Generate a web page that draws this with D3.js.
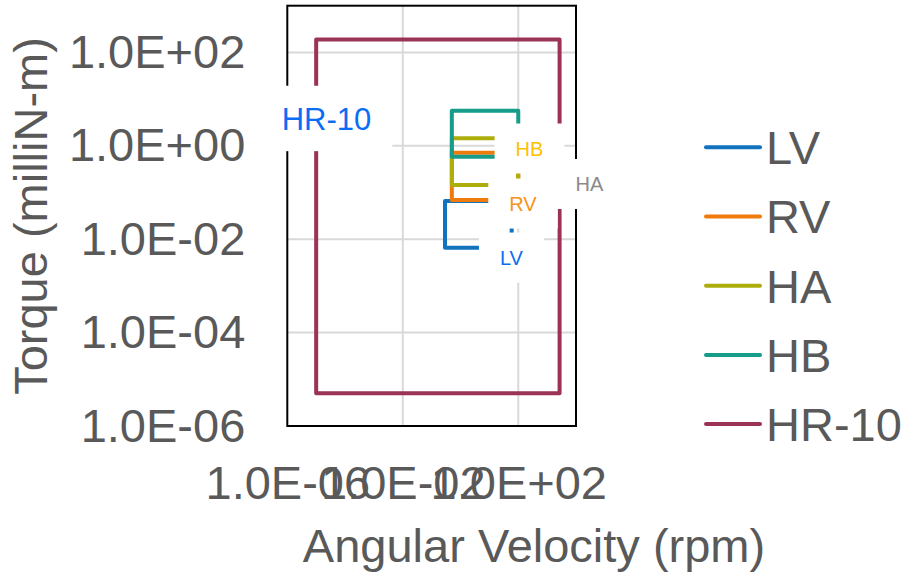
<!DOCTYPE html>
<html>
<head>
<meta charset="utf-8">
<script src="https://cdn.jsdelivr.net/npm/d3@7"></script>
<style>
  body { margin: 0; background: #fff; }
  text { font-family: "Liberation Sans", Arial, sans-serif; }
</style>
</head>
<body>
<svg id="chart" width="903" height="572"></svg>
<script>
// operating envelopes: speed range (rpm) and torque range (milliN-m)
const seriesNames = ["LV", "RV", "HA", "HB", "HR-10"];
const speedMin = [0.29, 0.5, 0.5, 0.5, 1e-5];
const speedMax = [59, 100, 100, 100, 2700];
const torqueMin = [0.0066, 0.069, 0.145, 0.58, 5e-6];
const torqueMax = [0.066, 0.71, 1.45, 5.6, 190];

const seriesColors = ["#1172BE", "#EF7B0C", "#ADAE0C", "#179C8A", "#9A3356"];

// data label anchors, in data units (rpm, milliN-m)
const labelSpeed = [58, 146, 29300, 245, 2.28e-5];
const labelTorque = [0.00405, 0.058, 0.152, 0.875, 3.85];
const labelColors = ["#0B6CF5", "#F7941D", "#8A8A8A", "#FFC000", "#0B6CF5"];
const labelSizes = [20, 20, 20, 20, 31];

const xTicks = [1e-6, 1e-2, 1e2];
const yTicks = [1e-6, 1e-4, 1e-2, 1e0, 1e2];

const svg = d3.select("#chart");
const margin = { left: 287.3, top: 5.7 };
const W = 288.7, H = 420.3;
const TXT = "#595959";

const x = d3.scaleLog().domain([1e-6, 1e4]).range([0, W]);
const y = d3.scaleLog().domain([1e-6, 1e3]).range([H, 0]);

const fmtE = v => {
  const [m, e] = v.toExponential(1).split("e");
  const n = Math.abs(+e);
  return m + "E" + (+e < 0 ? "-" : "+") + (n < 10 ? "0" + n : n);
};

const g = svg.append("g").attr("transform", `translate(${margin.left},${margin.top})`);

// gridlines
g.append("g").selectAll("line").data([1e-2, 1e2]).join("line")
  .attr("x1", d => x(d)).attr("x2", d => x(d)).attr("y1", 0).attr("y2", H)
  .attr("stroke", "#D9D9D9").attr("stroke-width", 2);
g.append("g").selectAll("line").data([1e-4, 1e-2, 1e0, 1e2]).join("line")
  .attr("y1", d => y(d)).attr("y2", d => y(d)).attr("x1", 0).attr("x2", W)
  .attr("stroke", "#D9D9D9").attr("stroke-width", 2);

// plot border
g.append("rect").attr("width", W).attr("height", H)
  .attr("fill", "none").attr("stroke", "#000").attr("stroke-width", 2);

// axes
const xAxis = g.append("g").attr("transform", `translate(0,${H})`)
  .call(d3.axisBottom(x).tickValues(xTicks).tickFormat(fmtE).tickSize(0).tickPadding(40));
const yAxis = g.append("g")
  .call(d3.axisLeft(y).tickValues(yTicks).tickFormat(fmtE).tickSize(0).tickPadding(42));
[xAxis, yAxis].forEach(a => {
  a.select(".domain").remove();
  a.selectAll("text").attr("font-size", 47).attr("fill", TXT)
    .attr("font-family", "'Liberation Sans', Arial, sans-serif");
});

// envelopes
const line = d3.line().x(d => x(d[0])).y(d => y(d[1]));
seriesNames.forEach((name, i) => {
  const pts = [
    [speedMin[i], torqueMin[i]], [speedMin[i], torqueMax[i]],
    [speedMax[i], torqueMax[i]], [speedMax[i], torqueMin[i]],
    [speedMin[i], torqueMin[i]]
  ];
  g.append("path").attr("d", line(pts) + "Z")
    .attr("fill", "none").attr("stroke", seriesColors[i])
    .attr("stroke-width", 4).attr("stroke-linejoin", "round");
});

// data labels with white boxes
seriesNames.forEach((name, i) => {
  const cx = x(labelSpeed[i]), cy = y(labelTorque[i]);
  const lg = g.append("g");
  const box = lg.append("rect").attr("fill", "#fff");
  const t = lg.append("text").attr("x", cx).attr("y", cy).attr("dy", "0.36em")
    .attr("text-anchor", "middle").attr("font-size", labelSizes[i])
    .attr("font-family", "Lato, 'Open Sans', sans-serif")
    .attr("fill", labelColors[i]).text(name);
  const tw = t.node().getComputedTextLength();
  const bw = tw + 42, bh = labelSizes[i] * 1.4 + 22;
  box.attr("x", cx - bw / 2).attr("y", cy - bh / 2).attr("width", bw).attr("height", bh);
});

// axis titles
svg.append("text").attr("x", 534).attr("y", 562).attr("text-anchor", "middle")
  .attr("font-size", 47).attr("fill", TXT).text("Angular Velocity (rpm)");
svg.append("text").attr("transform", "translate(47,216) rotate(-90)")
  .attr("text-anchor", "middle").attr("font-size", 47).attr("fill", TXT)
  .text("Torque (milliN-m)");

// legend
const leg = svg.append("g").attr("transform", "translate(706,147.3)");
seriesNames.forEach((name, i) => {
  const r = leg.append("g").attr("transform", `translate(0,${i * 69.2})`);
  r.append("line").attr("x1", 0).attr("x2", 54)
    .attr("stroke", seriesColors[i]).attr("stroke-width", 4).attr("stroke-linecap", "round");
  r.append("text").attr("x", 60).attr("dy", "0.36em")
    .attr("font-size", 47).attr("fill", TXT).text(name);
});
</script>
</body>
</html>
